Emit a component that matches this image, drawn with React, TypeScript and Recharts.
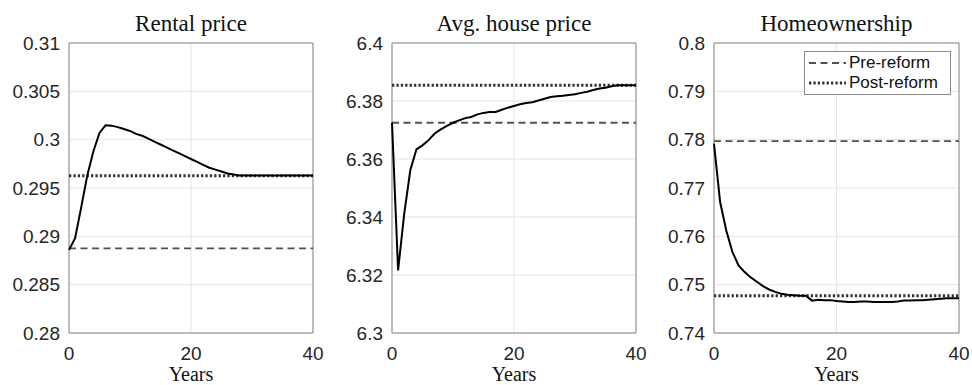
import React from 'react';
import { LineChart, Line, XAxis, YAxis, CartesianGrid, ReferenceLine, ReferenceArea } from 'recharts';

const years = [0, 1, 2, 3, 4, 5, 6, 7, 8, 9, 10, 11, 12, 13, 14, 15, 16, 17, 18, 19, 20, 21, 22, 23, 24, 25, 26, 27, 28, 29, 30, 31, 32, 33, 34, 35, 36, 37, 38, 39, 40];
const xTicks = [0, 20, 40];

const rentalPrice = [0.2886, 0.2898, 0.2930, 0.2963, 0.2988, 0.3007, 0.3015, 0.30145, 0.3013, 0.3011, 0.3009, 0.3006, 0.3004, 0.3001, 0.2998, 0.2995, 0.2992, 0.2989, 0.2986, 0.2983, 0.2980, 0.2977, 0.2974, 0.2971, 0.2969, 0.2967, 0.2965, 0.2964, 0.2963, 0.2963, 0.2963, 0.2963, 0.2963, 0.2963, 0.2963, 0.2963, 0.2963, 0.2963, 0.2963, 0.2963, 0.2963];
const rentalTicks = [0.28, 0.285, 0.29, 0.295, 0.3, 0.305, 0.31];
const rentalPre = 0.28876;
const rentalPost = 0.29627;

const housePrice = [6.3725, 6.3216, 6.3411, 6.3561, 6.3633, 6.3647, 6.3665, 6.3688, 6.3702, 6.3714, 6.3725, 6.3733, 6.3741, 6.3745, 6.3754, 6.3759, 6.3762, 6.3762, 6.3770, 6.3777, 6.3783, 6.3789, 6.3793, 6.3796, 6.3802, 6.3808, 6.3814, 6.3816, 6.3818, 6.3821, 6.3823, 6.3828, 6.3832, 6.3838, 6.3843, 6.3846, 6.3851, 6.3854, 6.3854, 6.3854, 6.3854];
const houseTicks = [6.3, 6.32, 6.34, 6.36, 6.38, 6.4];
const housePre = 6.3725;
const housePost = 6.3854;

const homeownership = [0.7792, 0.7671, 0.7612, 0.7568, 0.7540, 0.7526, 0.7515, 0.7506, 0.7497, 0.7490, 0.7485, 0.7481, 0.7479, 0.7478, 0.7477, 0.7477, 0.7467, 0.7469, 0.7468, 0.7468, 0.7466, 0.7465, 0.7464, 0.7464, 0.7465, 0.7465, 0.7464, 0.7464, 0.7464, 0.7464, 0.7465, 0.7467, 0.7467, 0.7468, 0.7468, 0.7469, 0.7470, 0.7471, 0.7472, 0.7472, 0.7472];
const homeTicks = [0.74, 0.75, 0.76, 0.77, 0.78, 0.79, 0.8];
const homePre = 0.7797;
const homePost = 0.7477;

const legendItems = ['Pre-reform', 'Post-reform'];

const PRE_COLOR = '#505050';
const POST_COLOR = '#333333';
const BOX_COLOR = '#8a8a8a';
const TICK_FONT = { fontSize: 19, fill: '#262626', fontFamily: "'Liberation Sans', Arial, sans-serif" };
const SERIF = "'Liberation Serif', 'Times New Roman', serif";

interface PanelProps {
    title: string;
    values: number[];
    yTicks: number[];
    pre: number;
    post: number;
    left: number;
    width: number;
    yAxisWidth: number;
    rightMargin: number;
}

const Panel: React.FC<PanelProps> = ({ title, values, yTicks, pre, post, left, width, yAxisWidth, rightMargin }) => {
    const data = years.map((y, i) => ({ year: y, value: values[i] }));
    const yMin = yTicks[0];
    const yMax = yTicks[yTicks.length - 1];
    const plotCenter = yAxisWidth + (width - yAxisWidth - rightMargin) / 2;

    return (
        <div style={{ position: 'absolute', left, top: 0, width, height: 385 }}>
            <div
                style={{
                    position: 'absolute',
                    left: plotCenter - 100,
                    width: 200,
                    top: 12,
                    textAlign: 'center',
                    fontFamily: SERIF,
                    fontSize: 23,
                    lineHeight: '23px',
                    color: '#111',
                }}
            >
                {title}
            </div>
            <LineChart width={width} height={385} data={data} margin={{ top: 43, right: rightMargin, left: 0, bottom: 0 }} style={{ overflow: 'visible' }}>
                <CartesianGrid stroke="#e4e4e4" strokeWidth={1} />
                <XAxis
                    dataKey="year"
                    type="number"
                    domain={[0, 40]}
                    ticks={xTicks}
                    height={52}
                    axisLine={false}
                    tickLine={false}
                    tickSize={0}
                    tickMargin={14}
                    tick={TICK_FONT}
                    label={{
                        value: 'Years',
                        position: 'insideBottom',
                        offset: 4,
                        style: { fontFamily: SERIF, fontSize: 20, fill: '#111' },
                    }}
                />
                <YAxis
                    type="number"
                    domain={[yMin, yMax]}
                    ticks={yTicks}
                    width={yAxisWidth}
                    axisLine={false}
                    tickLine={false}
                    tickSize={0}
                    tickMargin={9}
                    tick={TICK_FONT}
                    tickFormatter={(v: number) => String(v)}
                    allowDataOverflow
                />
                <ReferenceArea x1={0} x2={40} y1={yMin} y2={yMax} fill="none" stroke={BOX_COLOR} strokeWidth={1} ifOverflow="visible" />
                <ReferenceLine y={pre} stroke={PRE_COLOR} strokeWidth={1.8} strokeDasharray="7 4.5" />
                <ReferenceLine y={post} stroke={POST_COLOR} strokeWidth={3} strokeDasharray="2.3 2.1" />
                <Line type="linear" dataKey="value" stroke="#000" strokeWidth={2} dot={false} activeDot={false} isAnimationActive={false} />
            </LineChart>
        </div>
    );
};

const LegendBox: React.FC = () => (
    <div
        style={{
            position: 'absolute',
            left: 804,
            top: 51,
            width: 145,
            height: 42,
            border: `1px solid ${BOX_COLOR}`,
            background: '#fff',
            fontFamily: "'Liberation Sans', Arial, sans-serif",
            fontSize: 17,
            color: '#111',
        }}
    >
        {legendItems.map((label, i) => (
            <div key={label} style={{ position: 'absolute', left: 0, top: 1 + i * 20, height: 20, display: 'flex', alignItems: 'center' }}>
                <svg width={44} height={20} style={{ display: 'block' }}>
                    <line
                        x1={4}
                        x2={41}
                        y1={10}
                        y2={10}
                        stroke={i === 0 ? PRE_COLOR : POST_COLOR}
                        strokeWidth={i === 0 ? 1.8 : 3}
                        strokeDasharray={i === 0 ? '7 4.5' : '2.3 2.1'}
                    />
                </svg>
                <span style={{ lineHeight: '20px', whiteSpace: 'nowrap' }}>{label}</span>
            </div>
        ))}
    </div>
);

export default function App() {
    return (
        <div style={{ position: 'absolute', left: 0, top: 0, width: 972, height: 385, background: '#fff', overflow: 'hidden' }}>
            <Panel title="Rental price" values={rentalPrice} yTicks={rentalTicks} pre={rentalPre} post={rentalPost} left={0} width={330} yAxisWidth={69} rightMargin={17} />
            <Panel title="Avg. house price" values={housePrice} yTicks={houseTicks} pre={housePre} post={housePost} left={330} width={330} yAxisWidth={62} rightMargin={24} />
            <Panel title="Homeownership" values={homeownership} yTicks={homeTicks} pre={homePre} post={homePost} left={660} width={312} yAxisWidth={54} rightMargin={13} />
            <LegendBox />
        </div>
    );
}
